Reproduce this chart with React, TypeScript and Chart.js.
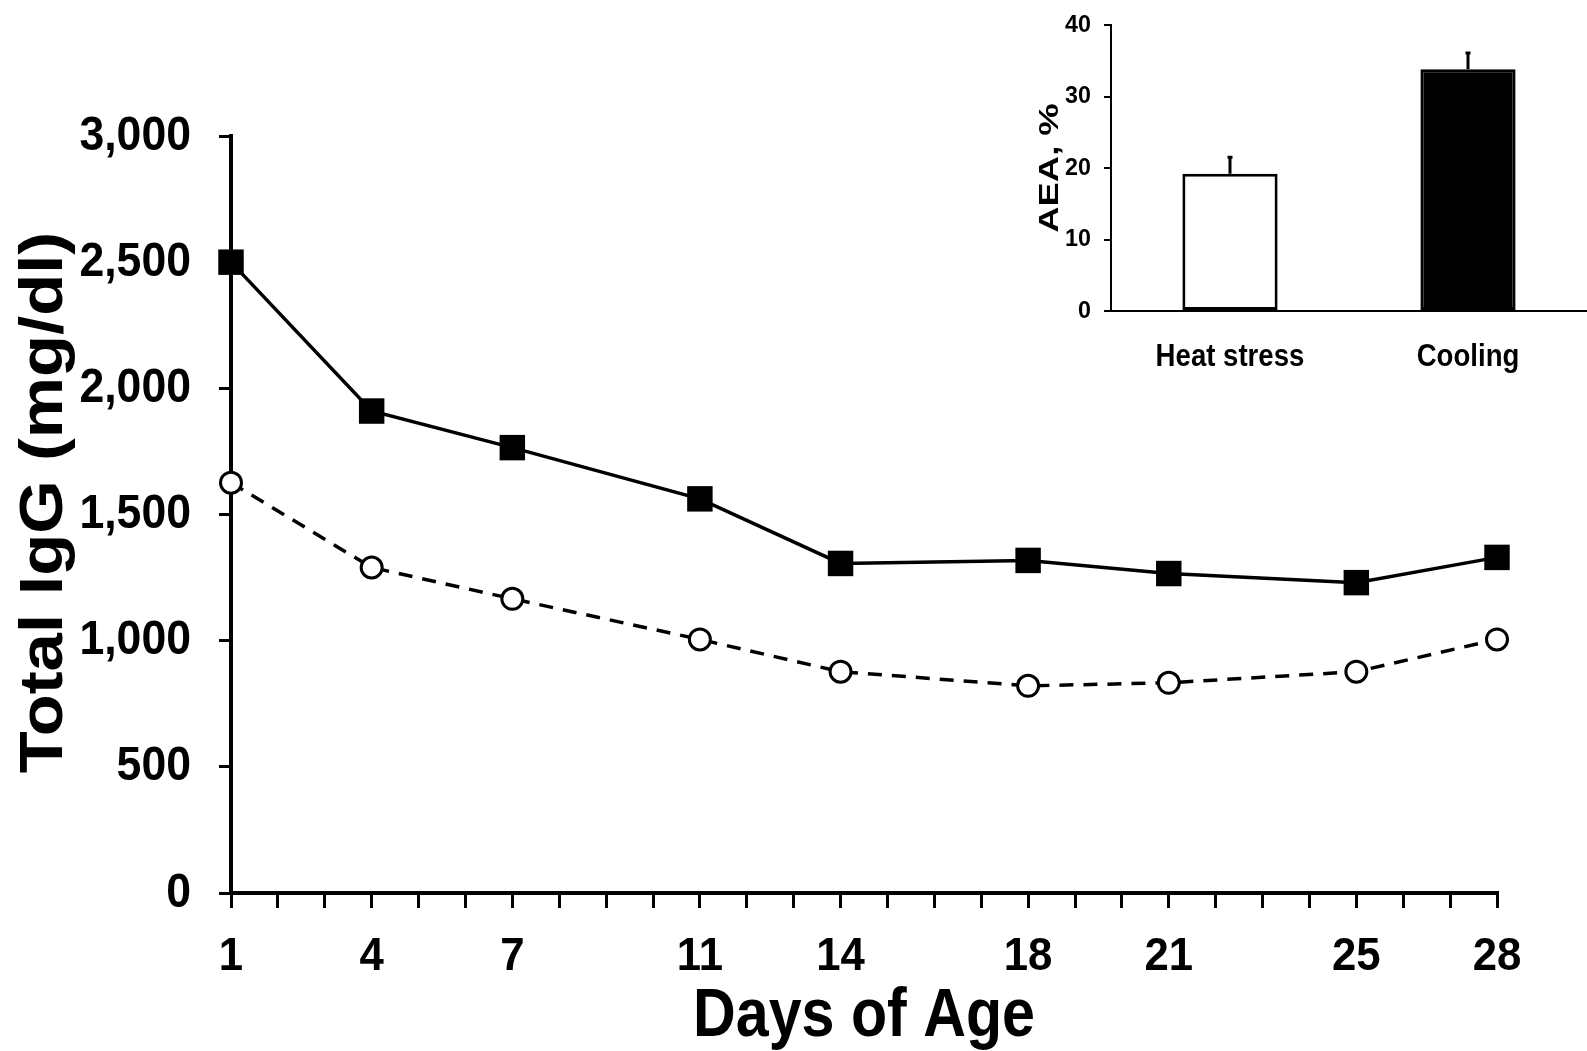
import React, { useEffect, useRef } from 'react';
import { Chart, registerables } from 'chart.js';

Chart.register(...registerables);

// ---- Data ----
const days = [1, 4, 7, 11, 14, 18, 21, 25, 28];
const coolingIgG = [2500, 1910, 1765, 1562, 1306, 1318, 1266, 1230, 1330];
const heatStressIgG = [1626, 1290, 1166, 1005, 877, 821, 833, 877, 1005];
const xTickLabels = [1, 4, 7, 11, 14, 18, 21, 25, 28];

const aeaGroups = ['Heat stress', 'Cooling'];
const aeaValues = [19.2, 33.8];
const aeaErrors = [2.3, 2.3];

const MAIN_Y_TITLE = 'Total IgG (mg/dl)';
const MAIN_X_TITLE = 'Days of Age';
const INSET_Y_TITLE = 'AEA, %';

const FONT = '"Liberation Sans", Arial, sans-serif';

type TextStyle = { sx: number; dx?: number };

// Horizontal text scaling (condensed / stretched lettering of the original figure)
function patchContext(canvas: HTMLCanvasElement, styleFor: (t: string) => TextStyle) {
  const ctx = canvas.getContext('2d') as CanvasRenderingContext2D;
  const orig = ctx.fillText.bind(ctx);
  (ctx as any).fillText = (text: string, x: number, y: number, maxWidth?: number) => {
    const st = styleFor(String(text));
    ctx.save();
    ctx.translate(x + (st.dx || 0), y);
    ctx.scale(st.sx, 1);
    if (maxWidth !== undefined) orig(text, 0, 0, maxWidth / st.sx);
    else orig(text, 0, 0);
    ctx.restore();
  };
}

const mainTextStyle = (t: string): TextStyle => {
  if (t === MAIN_Y_TITLE) return { sx: 1.11, dx: 12 };
  if (t === MAIN_X_TITLE) return { sx: 0.87 };
  if (xTickLabels.map(String).includes(t)) return { sx: 0.95 };
  return { sx: 0.91 };
};

const insetTextStyle = (t: string): TextStyle => {
  if (t === INSET_Y_TITLE) return { sx: 1.3 };
  if (aeaGroups.includes(t)) return { sx: 0.89 };
  return { sx: 0.97 };
};

const errorBarPlugin = {
  id: 'errorBars',
  afterDatasetsDraw(chart: any) {
    const meta = chart.getDatasetMeta(0);
    const y = chart.scales.y;
    const ctx = chart.ctx;
    ctx.save();
    ctx.strokeStyle = '#000';
    ctx.lineWidth = 3;
    meta.data.forEach((bar: any, i: number) => {
      const top = y.getPixelForValue(aeaValues[i] + aeaErrors[i]);
      ctx.beginPath();
      ctx.moveTo(bar.x, bar.y);
      ctx.lineTo(bar.x, top);
      ctx.moveTo(bar.x - 2.5, top);
      ctx.lineTo(bar.x + 2.5, top);
      ctx.stroke();
    });
    ctx.restore();
  },
};

export default function App() {
  const mainRef = useRef<HTMLCanvasElement>(null);
  const insetRef = useRef<HTMLCanvasElement>(null);

  useEffect(() => {
    document.body.style.margin = '0';
    document.body.style.overflow = 'hidden';
    document.body.style.background = '#fff';

    const mainCanvas = mainRef.current as HTMLCanvasElement;
    const insetCanvas = insetRef.current as HTMLCanvasElement;
    patchContext(mainCanvas, mainTextStyle);
    patchContext(insetCanvas, insetTextStyle);

    const main = new Chart(mainCanvas, {
      type: 'line',
      data: {
        datasets: [
          {
            label: 'Cooling',
            data: days.map((d, i) => ({ x: d, y: coolingIgG[i] })),
            borderColor: '#000',
            borderWidth: 3.5,
            pointStyle: 'rect',
            pointRadius: 18,
            pointBackgroundColor: '#000',
            pointBorderColor: '#000',
            pointBorderWidth: 0,
            tension: 0,
            clip: false,
          } as any,
          {
            label: 'Heat stress',
            data: days.map((d, i) => ({ x: d, y: heatStressIgG[i] })),
            borderColor: '#000',
            borderWidth: 3.5,
            borderDash: [14, 10],
            pointStyle: 'circle',
            pointRadius: 10.5,
            pointBackgroundColor: '#fff',
            pointBorderColor: '#000',
            pointBorderWidth: 3,
            tension: 0,
            clip: false,
          } as any,
        ],
      },
      options: {
        animation: false,
        responsive: false,
        maintainAspectRatio: false,
        layout: { padding: { top: 136, right: 90, bottom: 0, left: 0 } },
        plugins: { legend: { display: false }, tooltip: { enabled: false } },
        scales: {
          x: {
            type: 'linear',
            min: 1,
            max: 28,
            position: 'bottom',
            afterFit: (s: any) => { s.height = 158; },
            grid: { display: true, drawOnChartArea: false, drawTicks: true, tickLength: 15, lineWidth: 3, color: '#000' },
            border: { display: true, width: 4, color: '#000' },
            ticks: {
              stepSize: 1,
              autoSkip: false,
              maxRotation: 0,
              padding: 22,
              color: '#000',
              font: { family: FONT, size: 46, weight: 'bold' },
              callback: (v: any) => (xTickLabels.includes(Number(v)) ? String(v) : ''),
            },
            title: {
              display: true,
              text: MAIN_X_TITLE,
              color: '#000',
              font: { family: FONT, size: 68, weight: 'bold', lineHeight: 1.0 },
              padding: 0,
            },
          } as any,
          y: {
            min: 0,
            max: 3000,
            afterFit: (s: any) => { s.width = 231; },
            grid: { drawOnChartArea: false, tickLength: 12, lineWidth: 3, color: '#000' },
            border: { width: 4, color: '#000' },
            ticks: {
              stepSize: 500,
              padding: 28,
              color: '#000',
              font: { family: FONT, size: 49, weight: 'bold' },
              callback: (v: any) => Number(v).toLocaleString('en-US'),
            },
            title: {
              display: true,
              text: MAIN_Y_TITLE,
              color: '#000',
              font: { family: FONT, size: 62, weight: 'bold', lineHeight: 1.2 },
              padding: { top: 8, bottom: 0 },
            },
          } as any,
        },
      },
    });

    const inset = new Chart(insetCanvas, {
      type: 'bar',
      data: {
        labels: aeaGroups,
        datasets: [
          {
            data: aeaValues,
            backgroundColor: ['#fff', '#000'],
            borderColor: '#000',
            borderWidth: 3,
            borderSkipped: false,
            barPercentage: 0.4,
            categoryPercentage: 1,
          } as any,
        ],
      },
      options: {
        animation: false,
        responsive: false,
        maintainAspectRatio: false,
        layout: { padding: { top: 23, right: 0, left: 0, bottom: 0 } },
        plugins: { legend: { display: false }, tooltip: { enabled: false } },
        scales: {
          x: {
            afterFit: (s: any) => { s.height = 89; },
            grid: { display: false, drawTicks: false },
            border: { width: 2, color: '#000' },
            ticks: { padding: 28, color: '#000', font: { family: FONT, size: 31, weight: 'bold' } },
          } as any,
          y: {
            min: 0,
            max: 40,
            afterFit: (s: any) => { s.width = 91; },
            grid: { drawOnChartArea: false, tickLength: 7, lineWidth: 2, color: '#000' },
            border: { width: 2, color: '#000' },
            ticks: { stepSize: 10, padding: 13, color: '#000', font: { family: FONT, size: 24, weight: 'bold', lineHeight: 1.0 } },
            title: {
              display: true,
              text: INSET_Y_TITLE,
              color: '#000',
              font: { family: FONT, size: 28, weight: 'bold', lineHeight: 1.2 },
              padding: { top: 13, bottom: 0 },
            },
          } as any,
        },
      },
      plugins: [errorBarPlugin],
    });

    return () => {
      main.destroy();
      inset.destroy();
    };
  }, []);

  return (
    <div style={{ position: 'relative', width: 1587, height: 1051, background: '#fff' }}>
      <canvas ref={mainRef} width={1587} height={1051} style={{ position: 'absolute', left: 0, top: 0 }} />
      <canvas ref={insetRef} width={567} height={400} style={{ position: 'absolute', left: 1020, top: 0 }} />
    </div>
  );
}
